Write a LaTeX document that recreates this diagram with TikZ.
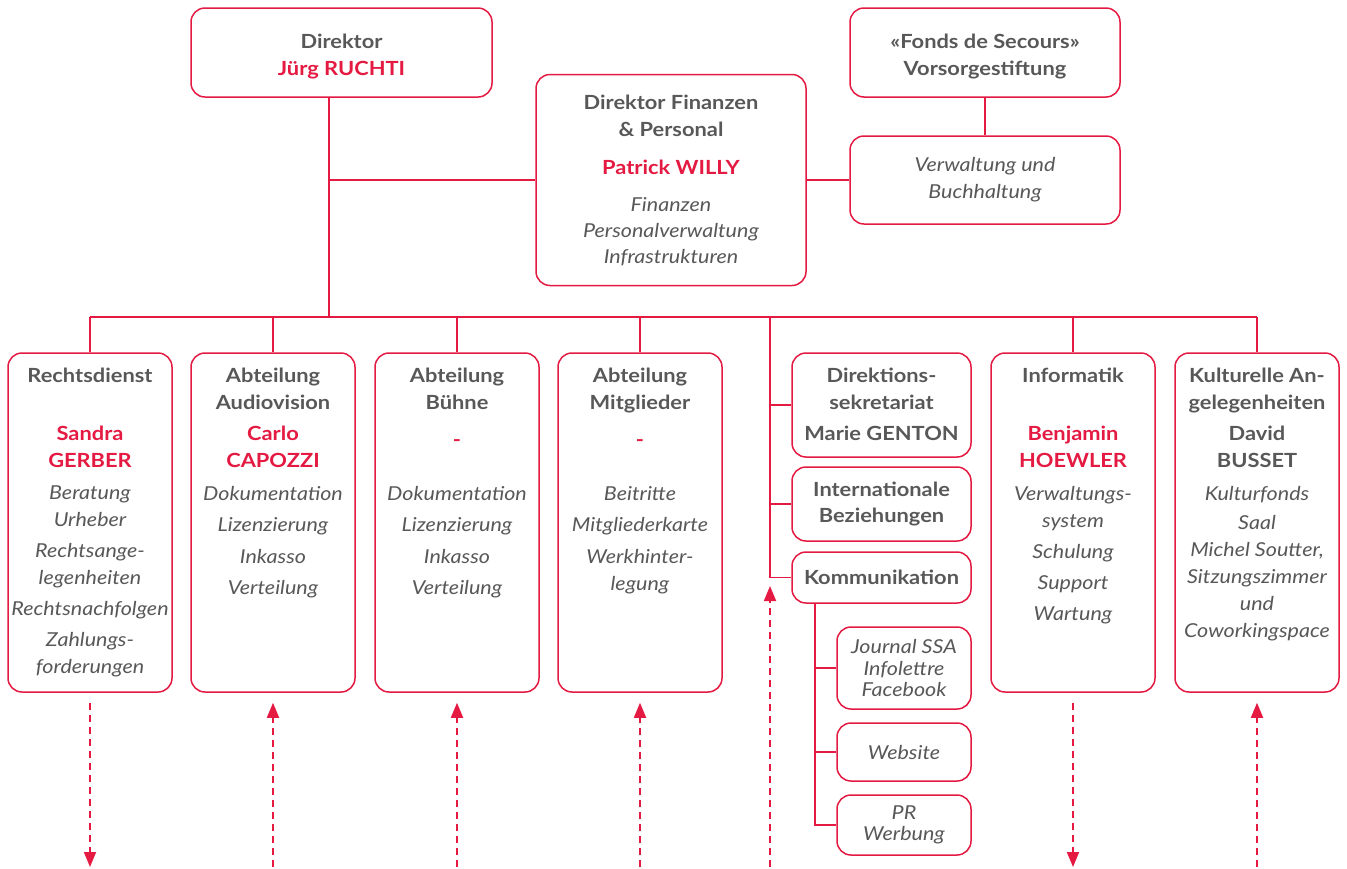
\documentclass[tikz,border=0pt]{standalone}
\usepackage{fontspec}
\setmainfont{Lato}[FakeStretch=1.12]
\usetikzlibrary{arrows.meta}

\definecolor{ssared}{RGB}{228,26,66}
\definecolor{ssagray}{RGB}{88,88,88}

\tikzset{
  unit/.style={draw=ssared, line width=1.5pt, rounded corners=14pt, fill=white, inner sep=0pt,
    text=ssagray, align=center},
  title/.style={font=\fontsize{19.5}{26.5}\selectfont\bfseries, text=ssagray, align=center, inner sep=0pt, anchor=north},
  head/.style={title, text=ssared},
  tasks/.style={font=\fontsize{19.2}{27}\selectfont\itshape, text=ssagray, align=center, inner sep=0pt, anchor=north},
  wire/.style={draw=ssared, line width=1.6pt},
  flow/.style={draw=ssared, line width=1.8pt, dash pattern=on 7pt off 5pt, -{Triangle[length=15pt,width=12pt]}},
}

\begin{document}
\begin{tikzpicture}[x=1pt, y=-1pt]
  \useasboundingbox (0,0) rectangle (1347,868);

  % top level
  \node[unit, minimum width=301pt, minimum height=89pt] (dir) at (341.5,52.5) {};
  \node[title] (dirT) at (341.5,34) {Direktor};
  \node[head] (dirN) at (341.5,61) {Jürg RUCHTI};

  \node[unit, minimum width=270pt, minimum height=89pt] (fonds) at (985,52.5) {};
  \node[title] (fondsT) at (985,34) {«Fonds de Secours»\\Vorsorgestiftung};

  \node[unit, minimum width=270pt, minimum height=88pt, font=\fontsize{19.2}{27}\selectfont\itshape] (verw) at (985,180) {Verwaltung und\\Buchhaltung};

  \node[unit, minimum width=270pt, minimum height=211pt] (fin) at (671,180) {};
  \node[title] (finT) at (671,95) {Direktor Finanzen\\\& Personal};
  \node[head] (finN) at (671,160) {Patrick WILLY};
  \node[tasks, font=\fontsize{19.2}{26}\selectfont\itshape] (finL) at (671,197) {Finanzen\\Personalverwaltung\\Infrastrukturen};

  % departments
  \node[unit, minimum width=164pt, minimum height=339pt] (recht) at (90,522.5) {};
  \node[title] (rechtT) at (90,368) {Rechtsdienst};
  \node[head] (rechtN) at (90,426) {Sandra\\GERBER};
  \node[tasks] (rechtL) at (90,486) {Beratung\\Urheber\\[4pt]Rechtsange-\\legenheiten\\[4pt]Rechtsnachfolgen\\[4pt]Zahlungs-\\forderungen};

  \node[unit, minimum width=164pt, minimum height=339pt] (audio) at (273,522.5) {};
  \node[title] (audioT) at (273,368) {Abteilung\\Audiovision};
  \node[head] (audioN) at (273,426) {Carlo\\CAPOZZI};
  \node[tasks] (audioL) at (273,486) {Dokumentation\\[4.5pt]Lizenzierung\\[4.5pt]Inkasso\\[4.5pt]Verteilung};

  \node[unit, minimum width=164pt, minimum height=339pt] (buehne) at (457,522.5) {};
  \node[title] (buehneT) at (457,368) {Abteilung\\Bühne};
  \node[head, anchor=base] (buehneN) at (457,446) {-};
  \node[tasks] (buehneL) at (457,486) {Dokumentation\\[4.5pt]Lizenzierung\\[4.5pt]Inkasso\\[4.5pt]Verteilung};

  \node[unit, minimum width=164pt, minimum height=339pt] (mitgl) at (640,522.5) {};
  \node[title] (mitglT) at (640,368) {Abteilung\\Mitglieder};
  \node[head, anchor=base] (mitglN) at (640,446) {-};
  \node[tasks] (mitglL) at (640,486) {Beitritte\\[4.5pt]Mitgliederkarte\\[4.5pt]Werkhinter-\\legung};

  \node[unit, minimum width=179pt, minimum height=104pt] (sekr) at (881.5,405) {};
  \node[title] (sekrT) at (881.5,368) {Direktions-\\sekretariat};
  \node[title] (sekrN) at (881.5,426) {Marie GENTON};

  \node[unit, minimum width=179pt, minimum height=74pt, font=\fontsize{19.5}{26.5}\selectfont\bfseries] (intl) at (881.5,504) {Internationale\\Beziehungen};
  \node[unit, minimum width=179pt, minimum height=51pt, font=\fontsize{19.5}{26.5}\selectfont\bfseries] (komm) at (881.5,577.5) {Kommunikation};

  \node[unit, minimum width=134pt, minimum height=82pt, font=\fontsize{19.2}{21.5}\selectfont\itshape] (journal) at (904,668) {Journal SSA\\Infolettre\\Facebook};
  \node[unit, minimum width=134pt, minimum height=58pt, font=\fontsize{19.2}{21.5}\selectfont\itshape] (web) at (904,752) {Website};
  \node[unit, minimum width=134pt, minimum height=60pt, font=\fontsize{19.2}{21.5}\selectfont\itshape] (pr) at (904,825) {PR\\Werbung};

  \node[unit, minimum width=164pt, minimum height=339pt] (info) at (1073,522.5) {};
  \node[title] (infoT) at (1073,368) {Informatik};
  \node[head] (infoN) at (1073,426) {Benjamin\\HOEWLER};
  \node[tasks] (infoL) at (1073,486) {Verwaltungs-\\system\\[4pt]Schulung\\[4pt]Support\\[4pt]Wartung};

  \node[unit, minimum width=164pt, minimum height=339pt] (kult) at (1257,522.5) {};
  \node[title] (kultT) at (1257,368) {Kulturelle An-\\gelegenheiten};
  \node[title] (kultN) at (1257,426) {David\\BUSSET};
  \node[tasks] (kultL) at (1257,486) {Kulturfonds\\[2pt]Saal\\Michel Soutter,\\Sitzungszimmer\\und\\Coworkingspace};

  % lines
  \coordinate (trunk) at (329,317);
  \coordinate (mid) at (770,317);
  \coordinate (kx) at (815,603);
  \coordinate (bottom) at (0,867);
  \coordinate (midIn) at (770,586);

  \draw[wire] (dir.south -| trunk) -- (trunk);
  \draw[wire] (trunk |- fin.west) -- (fin.west);
  \draw[wire] (fin.east) -- (verw.west);
  \draw[wire] (fonds.south) -- (verw.north);
  \draw[wire] (recht.north |- trunk) -- (kult.north |- trunk);
  \foreach \d in {recht,audio,buehne,mitgl,info,kult}
    \draw[wire] (\d.north |- trunk) -- (\d.north);
  \draw[wire] (mid) -- (mid |- komm.west) -- (komm.west);
  \draw[wire] (mid |- sekr.west) -- (sekr.west);
  \draw[wire] (mid |- intl.west) -- (intl.west);
  \draw[wire] (kx) -- (kx |- pr.west) -- (pr.west);
  \draw[wire] (kx |- journal.west) -- (journal.west);
  \draw[wire] (kx |- web.west) -- (web.west);

  % dashed links
  \draw[flow, shorten <=10pt] (recht.south) -- (recht.south |- bottom);
  \draw[flow, shorten <=10pt] (info.south) -- (info.south |- bottom);
  \foreach \d in {audio,buehne,mitgl,kult}
    \draw[flow, shorten >=10pt] (\d.south |- bottom) -- (\d.south);
  \draw[flow] (midIn |- bottom) -- (midIn);
\end{tikzpicture}
\end{document}
